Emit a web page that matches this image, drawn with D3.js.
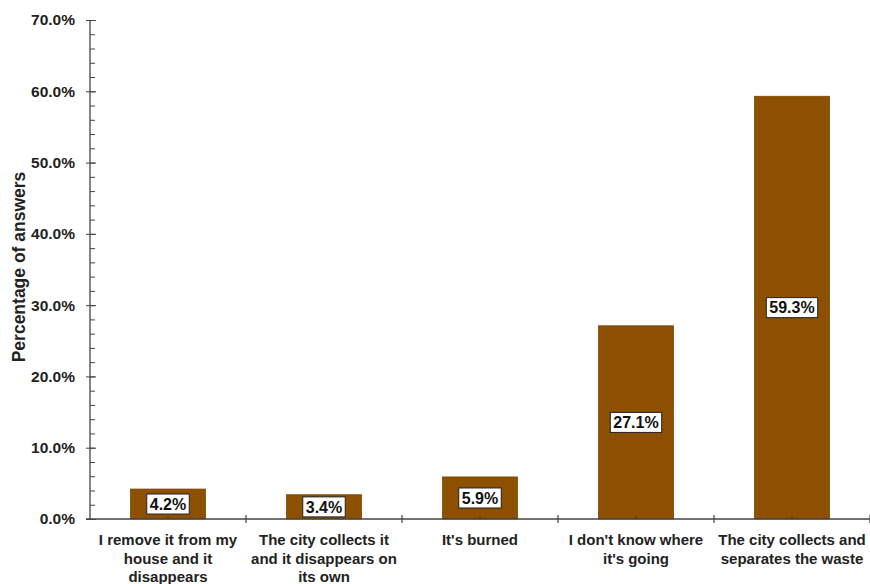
<!DOCTYPE html>
<html>
<head>
<meta charset="utf-8">
<script src="https://cdn.jsdelivr.net/npm/d3@7"></script>
<style>
html,body{margin:0;padding:0;background:#fff;}
svg{display:block;font-family:"Liberation Sans",Arial,Helvetica,sans-serif;}
</style>
</head>
<body>
<svg id="chart" width="870" height="584"></svg>
<script>
const categories = [
  "I remove it from my house and it disappears",
  "The city collects it and it disappears on its own",
  "It's burned",
  "I don't know where it's going",
  "The city collects and separates the waste"
];
const categoryLines = [
  ["I remove it from my", "house and it", "disappears"],
  ["The city collects it", "and it disappears on", "its own"],
  ["It's burned"],
  ["I don't know where", "it's going"],
  ["The city collects and", "separates the waste"]
];
const values = [4.2, 3.4, 5.9, 27.1, 59.3];
const valueLabels = ["4.2%", "3.4%", "5.9%", "27.1%", "59.3%"];
const yMajorTicks = [0, 10, 20, 30, 40, 50, 60, 70];
const yTickLabels = ["0.0%", "10.0%", "20.0%", "30.0%", "40.0%", "50.0%", "60.0%", "70.0%"];
const yMinorTicks = d3.range(0, 70.001, 2);
const yTitle = "Percentage of answers";

const svg = d3.select("#chart");
const axisColor = "#444";
const barColor = "#8c5000";

const x = d3.scaleBand().domain(categories).range([90, 870]).paddingInner(0).paddingOuter(0);
const y = d3.scaleLinear().domain([0, 70]).range([519, 20]);
const barW = x.bandwidth() * 0.48;

// bars
svg.append("g").selectAll("rect").data(values).join("rect")
  .attr("x", (d, i) => x(categories[i]) + x.bandwidth() / 2 - barW / 2)
  .attr("y", d => y(d))
  .attr("width", barW)
  .attr("height", d => y(0) - y(d))
  .attr("fill", barColor)
  .attr("stroke", "#7a4400")
  .attr("stroke-width", 0.8);

// y axis: minor ticks (right side), major ticks (both sides)
const yMinor = d3.axisRight(y).tickValues(yMinorTicks).tickSize(5).tickFormat("");
const gMinor = svg.append("g").attr("transform", "translate(90,0)").call(yMinor);
gMinor.select(".domain").remove();
gMinor.selectAll("line").attr("stroke", axisColor);

const yMajorR = d3.axisRight(y).tickValues(yMajorTicks).tickSize(6).tickFormat("");
const gMajR = svg.append("g").attr("transform", "translate(90,0)").call(yMajorR);
gMajR.select(".domain").remove();
gMajR.selectAll("line").attr("stroke", axisColor);

const yAxis = d3.axisLeft(y).tickValues(yMajorTicks)
  .tickFormat((d, i) => yTickLabels[i]).tickSize(4).tickPadding(11);
const gY = svg.append("g").attr("transform", "translate(90,0)").call(yAxis);
gY.select(".domain").attr("stroke", axisColor).attr("stroke-width", 1.3).attr("d", `M0,${y(70)}V${y(0)}`);
gY.selectAll("line").attr("stroke", axisColor);
gY.selectAll("text").attr("font-size", 15.5).attr("font-weight", "bold").attr("fill", "#222")
  .attr("font-family", "'Liberation Sans', Arial, sans-serif");

// x axis
const xAxisLine = svg.append("g");
xAxisLine.append("line").attr("x1", 86).attr("x2", 870).attr("y1", y(0)).attr("y2", y(0))
  .attr("stroke", axisColor).attr("stroke-width", 1.3);
const edges = categories.map(c => x(c)).concat([x(categories[categories.length - 1]) + x.bandwidth()]);
xAxisLine.selectAll("line.edge").data(edges.slice(1)).join("line").attr("class", "edge")
  .attr("x1", d => d).attr("x2", d => d).attr("y1", y(0) - 4).attr("y2", y(0) + 4)
  .attr("stroke", axisColor).attr("stroke-width", 1.2);
xAxisLine.selectAll("line.mid").data(categories).join("line").attr("class", "mid")
  .attr("x1", d => x(d) + x.bandwidth() / 2).attr("x2", d => x(d) + x.bandwidth() / 2)
  .attr("y1", y(0) - 3).attr("y2", y(0))
  .attr("stroke", "#5a3000").attr("stroke-width", 1);

// category labels
const gCat = svg.append("g");
categoryLines.forEach((lines, i) => {
  const t = gCat.append("text")
    .attr("x", x(categories[i]) + x.bandwidth() / 2)
    .attr("y", 545)
    .attr("text-anchor", "middle")
    .attr("font-size", 15)
    .attr("font-weight", "bold")
    .attr("fill", "#222");
  lines.forEach((ln, j) => {
    t.append("tspan").attr("x", x(categories[i]) + x.bandwidth() / 2)
      .attr("dy", j === 0 ? 0 : 18.5).text(ln);
  });
});

// value labels
const gVal = svg.append("g");
values.forEach((v, i) => {
  const cx = x(categories[i]) + x.bandwidth() / 2;
  const cy = (y(0) + y(v)) / 2;
  const g = gVal.append("g");
  const txt = g.append("text").attr("x", cx).attr("y", cy + 5.8)
    .attr("text-anchor", "middle").attr("font-size", 16).attr("font-weight", "bold")
    .attr("fill", "#111").text(valueLabels[i]);
  const bb = txt.node().getBBox();
  g.insert("rect", "text")
    .attr("x", cx - bb.width / 2 - 3).attr("y", cy - 10)
    .attr("width", bb.width + 6).attr("height", 20)
    .attr("fill", "#fff").attr("stroke", "#222").attr("stroke-width", 1);
});

// y title
svg.append("text")
  .attr("transform", `translate(25,${267}) rotate(-90)`)
  .attr("text-anchor", "middle")
  .attr("font-size", 17.5)
  .attr("font-weight", "bold")
  .attr("fill", "#222")
  .text(yTitle);
</script>
</body>
</html>
